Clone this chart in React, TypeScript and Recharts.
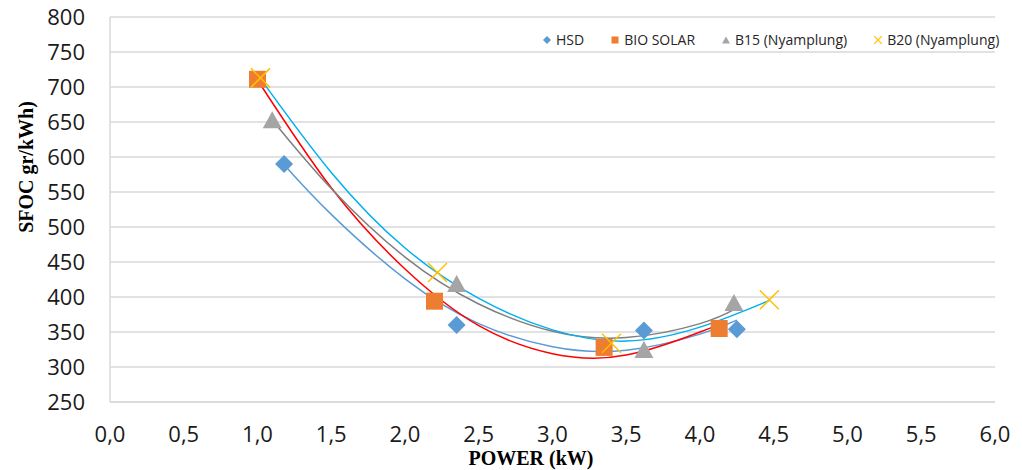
import React from 'react';
import { ComposedChart, Scatter, Line, XAxis, YAxis, CartesianGrid, Legend } from 'recharts';

const xTicks = [0, 0.5, 1, 1.5, 2, 2.5, 3, 3.5, 4, 4.5, 5, 5.5, 6];
const yTicks = [250, 300, 350, 400, 450, 500, 550, 600, 650, 700, 750, 800];

// measured points
const hsdPoints = [
  { x: 1.18, y: 590 },
  { x: 2.35, y: 360 },
  { x: 3.62, y: 352 },
  { x: 4.25, y: 354 },
];
const bioSolarPoints = [
  { x: 1.0, y: 711 },
  { x: 2.2, y: 394 },
  { x: 3.35, y: 328 },
  { x: 4.13, y: 355 },
];
const b15Points = [
  { x: 1.1, y: 651 },
  { x: 2.35, y: 417 },
  { x: 3.62, y: 323 },
  { x: 4.23, y: 390 },
];
const b20Points = [
  { x: 1.02, y: 713 },
  { x: 2.22, y: 435 },
  { x: 3.4, y: 334 },
  { x: 4.47, y: 396 },
];

// trendlines (poly 2)
const hsdTrend = [
  { x: 1.18, y: 589 },
  { x: 1.5, y: 518 },
  { x: 2.0, y: 426 },
  { x: 2.5, y: 362 },
  { x: 3.0, y: 329 },
  { x: 3.5, y: 324 },
  { x: 4.0, y: 347 },
  { x: 4.25, y: 367 },
];
const bioSolarTrend = [
  { x: 1.0, y: 710 },
  { x: 1.5, y: 556 },
  { x: 2.0, y: 440 },
  { x: 2.5, y: 359 },
  { x: 3.0, y: 319 },
  { x: 3.5, y: 317 },
  { x: 4.0, y: 350 },
  { x: 4.13, y: 361 },
];
const b15Trend = [
  { x: 1.1, y: 653 },
  { x: 1.5, y: 555 },
  { x: 2.0, y: 457 },
  { x: 2.5, y: 390 },
  { x: 3.0, y: 351 },
  { x: 3.5, y: 342 },
  { x: 4.0, y: 362 },
  { x: 4.24, y: 383 },
];
const b20Trend = [
  { x: 1.02, y: 712 },
  { x: 1.5, y: 578 },
  { x: 2.0, y: 470 },
  { x: 2.5, y: 398 },
  { x: 3.0, y: 353 },
  { x: 3.5, y: 337 },
  { x: 4.0, y: 357 },
  { x: 4.47, y: 395 },
];

const BLUE = '#5B9BD5';
const ORANGE = '#ED7D31';
const GRAY = '#A5A5A5';
const GOLD = '#FFC000';

const tickFont = { fontFamily: '"Open Sans", sans-serif', fontSize: 22, fill: '#1a1a1a' };

const Diamond = (props: any) => {
  const { cx, cy } = props;
  const r = 9;
  return <polygon points={`${cx},${cy - r} ${cx + r},${cy} ${cx},${cy + r} ${cx - r},${cy}`} fill={BLUE} />;
};

const Square = (props: any) => {
  const { cx, cy } = props;
  return <rect x={cx - 8.5} y={cy - 8.5} width={17} height={17} fill={ORANGE} />;
};

const Triangle = (props: any) => {
  const { cx, cy } = props;
  return <polygon points={`${cx},${cy - 10} ${cx + 9.5},${cy + 7} ${cx - 9.5},${cy + 7}`} fill={GRAY} />;
};

const Cross = (props: any) => {
  const { cx, cy } = props;
  const r = 9.5;
  return (
    <g stroke={GOLD} strokeWidth={1.5}>
      <line x1={cx - r} y1={cy - r} x2={cx + r} y2={cy + r} />
      <line x1={cx - r} y1={cy + r} x2={cx + r} y2={cy - r} />
    </g>
  );
};

const legendItems = [
  { name: 'HSD', icon: <polygon points="4,0 8,4 4,8 0,4" fill={BLUE} /> },
  { name: 'BIO SOLAR', icon: <rect x={0.5} y={0.5} width={7} height={7} fill={ORANGE} /> },
  { name: 'B15 (Nyamplung)', icon: <polygon points="4,0.5 8,7.5 0,7.5" fill={GRAY} /> },
  {
    name: 'B20 (Nyamplung)',
    icon: (
      <g stroke={GOLD} strokeWidth={1.2}>
        <line x1={0} y1={0} x2={8} y2={8} />
        <line x1={0} y1={8} x2={8} y2={0} />
      </g>
    ),
  },
];

const LegendBox = () => (
  <div
    style={{
      display: 'flex',
      alignItems: 'center',
      whiteSpace: 'nowrap',
      fontFamily: '"Open Sans", sans-serif',
      fontSize: 14,
      color: '#262626',
      lineHeight: '18px',
    }}
  >
    {legendItems.map((it) => (
      <div key={it.name} style={{ display: 'flex', alignItems: 'center', flexShrink: 0, marginRight: 27 }}>
        <svg width={8} height={8} style={{ marginRight: 5, flexShrink: 0 }}>
          {it.icon}
        </svg>
        <span>{it.name}</span>
      </div>
    ))}
  </div>
);

const fmtX = (v: number) => v.toFixed(1).replace('.', ',');

export default function App() {
  return (
    <div style={{ position: 'absolute', left: 0, top: 0, width: 1022, height: 470, background: '#fff' }}>
      <ComposedChart width={1022} height={470} margin={{ top: 17, right: 27, bottom: 0, left: 0 }}>
        <CartesianGrid vertical={false} stroke="#D9D9D9" strokeWidth={1.5} />
        <XAxis
          type="number"
          dataKey="x"
          domain={[0, 6]}
          ticks={xTicks}
          interval={0}
          tickFormatter={fmtX}
          tickLine={false}
          tickSize={0}
          tickMargin={24}
          height={68}
          axisLine={{ stroke: '#D9D9D9', strokeWidth: 1.5 }}
          tick={tickFont}
          label={{
            content: () => (
              <text x={531} y={465} textAnchor="middle" fontFamily='"Liberation Serif", "Times New Roman", serif' fontWeight="bold" fontSize={20} fill="#000">
                POWER (kW)
              </text>
            ),
          }}
        />
        <YAxis
          type="number"
          dataKey="y"
          domain={[250, 800]}
          ticks={yTicks}
          interval={0}
          tickLine={false}
          tickSize={0}
          tickMargin={25}
          width={110}
          axisLine={{ stroke: '#D9D9D9', strokeWidth: 1.5 }}
          tick={tickFont}
          label={{
            content: () => (
              <text
                x={33}
                y={167}
                transform="rotate(-90, 33, 167)"
                textAnchor="middle"
                fontFamily='"Liberation Serif", "Times New Roman", serif'
                fontWeight="bold"
                fontSize={20}
                fill="#000"
              >
                SFOC gr/kWh)
              </text>
            ),
          }}
        />
        <Legend
          layout="horizontal"
          verticalAlign="middle"
          align="center"
          wrapperStyle={{ position: 'absolute', top: 31, left: 543, width: 478 }}
          content={() => <LegendBox />}
        />
        <Scatter name="HSD" data={hsdPoints} dataKey="y" shape={Diamond} isAnimationActive={false} />
        <Scatter name="BIO SOLAR" data={bioSolarPoints} dataKey="y" shape={Square} isAnimationActive={false} />
        <Scatter name="B15 (Nyamplung)" data={b15Points} dataKey="y" shape={Triangle} isAnimationActive={false} />
        <Scatter name="B20 (Nyamplung)" data={b20Points} dataKey="y" shape={Cross} isAnimationActive={false} />
        <Line data={hsdTrend} dataKey="y" type="natural" stroke={BLUE} strokeWidth={1.5} dot={false} activeDot={false} legendType="none" isAnimationActive={false} />
        <Line data={bioSolarTrend} dataKey="y" type="natural" stroke="#FF0000" strokeWidth={1.5} dot={false} activeDot={false} legendType="none" isAnimationActive={false} />
        <Line data={b15Trend} dataKey="y" type="natural" stroke="#7F7F7F" strokeWidth={1.5} dot={false} activeDot={false} legendType="none" isAnimationActive={false} />
        <Line data={b20Trend} dataKey="y" type="natural" stroke="#00B0F0" strokeWidth={1.5} dot={false} activeDot={false} legendType="none" isAnimationActive={false} />
      </ComposedChart>
    </div>
  );
}
